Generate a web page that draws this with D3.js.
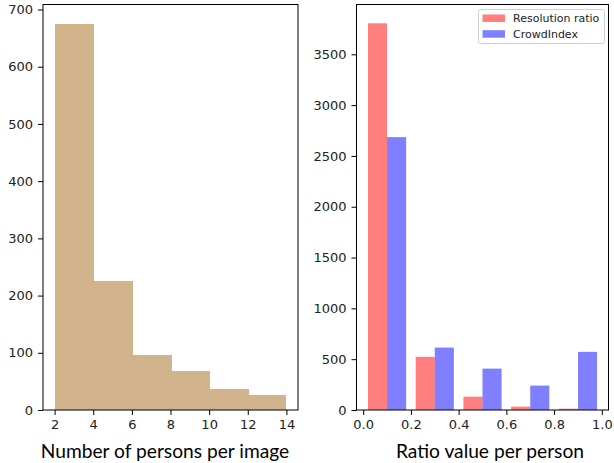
<!DOCTYPE html>
<html>
<head>
<meta charset="utf-8">
<script src="https://cdn.jsdelivr.net/npm/d3@7"></script>
<style>
  body { margin: 0; background: #fff; }
  svg { display: block; }
  .tick text { font-family: "DejaVu Sans", sans-serif; font-size: 13px; fill: #222; }
</style>
</head>
<body>
<div id="chart"></div>
<script>
// Left histogram: persons per image
const personBins = [2, 4, 6, 8, 10, 12, 14];
const personCounts = [674, 225, 97, 68, 37, 26];
const personTicks = [2, 4, 6, 8, 10, 12, 14];
const personYTicks = [0, 100, 200, 300, 400, 500, 600, 700];

// Right histogram: ratio values, 5 bins over [0, 1]
const ratioBins = [0, 0.2, 0.4, 0.6, 0.8, 1.0];
const resolutionCounts = [3805, 523, 131, 33, 13];
const crowdCounts = [2685, 614, 407, 240, 572];
const ratioTicks = [0, 0.2, 0.4, 0.6, 0.8, 1.0];
const ratioYTicks = [0, 500, 1000, 1500, 2000, 2500, 3000, 3500];
const seriesNames = ['Resolution ratio', 'CrowdIndex'];

const width = 614;
const height = 463;

const svg = d3.select('#chart')
  .append('svg')
  .attr('width', width)
  .attr('height', height);

const plotTop = 4.5, plotBottom = 410;

// ---- left panel ----
const x1 = d3.scaleLinear().domain([1.4, 14.6]).range([43, 298]);
const y1 = d3.scaleLinear().domain([0, 708.75]).range([plotBottom, plotTop]);

const g1 = svg.append('g');
g1.selectAll('rect')
  .data(personCounts)
  .enter()
  .append('rect')
  .attr('x', (d, i) => x1(personBins[i]))
  .attr('width', (d, i) => x1(personBins[i + 1]) - x1(personBins[i]) + (i < personCounts.length - 1 ? 1 : 0))
  .attr('y', d => y1(d))
  .attr('height', d => y1(0) - y1(d))
  .attr('fill', '#d2b48c')
  .attr('shape-rendering', 'crispEdges');

g1.append('g')
  .attr('transform', `translate(0,${plotBottom})`)
  .call(d3.axisBottom(x1).tickValues(personTicks).tickSize(5).tickPadding(5).tickSizeOuter(0));
g1.append('g')
  .attr('transform', 'translate(43,0)')
  .call(d3.axisLeft(y1).tickValues(personYTicks).tickFormat(d3.format('d')).tickSize(5).tickPadding(5).tickSizeOuter(0));

g1.append('rect')
  .attr('x', 43).attr('y', plotTop)
  .attr('width', 298 - 43).attr('height', plotBottom - plotTop)
  .attr('fill', 'none').attr('stroke', '#000').attr('stroke-width', 1);

// ---- right panel ----
const x2 = d3.scaleLinear().domain([-0.028, 1.028]).range([356.5, 608.5]);
const y2 = d3.scaleLinear().domain([0, 3990]).range([plotBottom, plotTop]);
const binW = 0.2;
const barW = binW * 0.8 / 2;

const g2 = svg.append('g');
const series = [
  { name: seriesNames[0], values: resolutionCounts, color: 'rgba(255,0,0,0.5)' },
  { name: seriesNames[1], values: crowdCounts, color: 'rgba(0,0,255,0.5)' }
];

series.forEach((s, si) => {
  g2.selectAll(null)
    .data(s.values)
    .enter()
    .append('rect')
    .attr('x', (d, i) => x2(ratioBins[i] + binW * 0.1 + si * barW))
    .attr('width', x2(barW) - x2(0))
    .attr('y', d => y2(d))
    .attr('height', d => y2(0) - y2(d))
    .attr('fill', s.color);
});

g2.append('g')
  .attr('transform', `translate(0,${plotBottom})`)
  .call(d3.axisBottom(x2).tickValues(ratioTicks).tickFormat(d3.format('.1f')).tickSize(5).tickPadding(5).tickSizeOuter(0));
g2.append('g')
  .attr('transform', 'translate(356.5,0)')
  .call(d3.axisLeft(y2).tickValues(ratioYTicks).tickFormat(d3.format('d')).tickSize(5).tickPadding(5).tickSizeOuter(0));

g2.append('rect')
  .attr('x', 356.5).attr('y', plotTop)
  .attr('width', 608.5 - 356.5).attr('height', plotBottom - plotTop)
  .attr('fill', 'none').attr('stroke', '#000').attr('stroke-width', 1);

svg.selectAll('.domain').remove();
svg.selectAll('.tick line').attr('stroke', '#000');

// legend
const legend = svg.append('g');
legend.append('rect')
  .attr('x', 478.5).attr('y', 9.5)
  .attr('width', 126).attr('height', 34)
  .attr('rx', 2)
  .attr('fill', 'rgba(255,255,255,0.8)')
  .attr('stroke', '#d0d0d0');
series.forEach((s, i) => {
  legend.append('rect')
    .attr('x', 482.5).attr('y', 14.5 + i * 15.7)
    .attr('width', 22.5).attr('height', 7.5)
    .attr('fill', s.color);
  legend.append('text')
    .attr('x', 513)
    .attr('y', 22 + i * 15.7)
    .attr('font-family', 'DejaVu Sans, sans-serif')
    .attr('font-size', 11)
    .attr('fill', '#222')
    .text(s.name);
});

// axis labels
svg.append('text')
  .attr('x', 165).attr('y', 458)
  .attr('text-anchor', 'middle')
  .attr('font-family', 'Lato, sans-serif')
  .attr('font-size', 19.2)
  .attr('fill', '#000')
  .text('Number of persons per image');
svg.append('text')
  .attr('x', 490).attr('y', 458)
  .attr('text-anchor', 'middle')
  .attr('font-family', 'Lato, sans-serif')
  .attr('font-size', 19.2)
  .attr('fill', '#000')
  .text('Ratio value per person');
</script>
</body>
</html>
